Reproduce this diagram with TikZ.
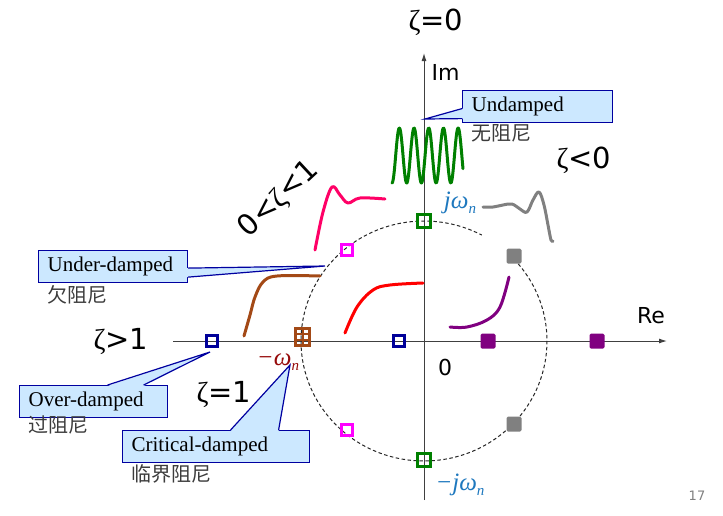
\documentclass[tikz,border=0pt]{standalone}
\usepackage{fontspec}
\setmainfont{Liberation Serif}
\newfontfamily\labelfont{DejaVu Sans}
\newfontfamily\cjk{Noto Sans CJK SC}
\usepackage{tikz}
\usetikzlibrary{arrows.meta,positioning,calc}

\definecolor{calloutfill}{RGB}{204,232,255}
\definecolor{calloutline}{RGB}{0,0,160}
\definecolor{zgreen}{RGB}{0,128,0}
\definecolor{zmagenta}{RGB}{255,0,255}
\definecolor{znavy}{RGB}{0,0,153}
\definecolor{zbrown}{RGB}{163,73,22}
\definecolor{zpink}{RGB}{255,0,102}
\definecolor{zred}{RGB}{255,0,0}
\definecolor{zgray}{RGB}{128,128,128}
\definecolor{zpurple}{RGB}{128,0,128}
\definecolor{jwblue}{RGB}{30,120,190}
\definecolor{wndred}{RGB}{150,10,10}
\definecolor{cntext}{RGB}{60,60,60}

\newcommand{\zet}{{\rmfamily ζ}}
\newcommand{\wsub}{\raisebox{-0.45ex}{\fontsize{15}{15}\selectfont n}}

\tikzset{
  axis/.style={line width=1pt,black!75,-{Latex[length=8pt,width=5pt]}},
  circ/.style={black!85,line width=1pt,dash pattern=on 3.5pt off 2.5pt},
  resp/.style={line width=3pt,line cap=round,line join=round},
  opensq/.style={draw,line width=2.6pt,minimum size=11.5pt,inner sep=0pt},
  fillsq/.style={fill,minimum size=15pt,inner sep=0pt,rounded corners=1.5pt},
  callbox/.style={draw=calloutline,fill=calloutfill,line width=1.2pt,anchor=north west,
    inner xsep=9pt,inner ysep=0pt,minimum height=32pt,align=left,
    font=\fontsize{21}{24}\selectfont},
  callptr/.style={draw=calloutline,line width=1.2pt,line join=miter},
  cnlabel/.style={inner sep=0pt,text=cntext,font=\cjk\fontsize{20}{22}\selectfont},
  zetalabel/.style={font=\labelfont\fontsize{29}{32}\selectfont},
  axislabel/.style={font=\labelfont\fontsize{22}{24}\selectfont},
  mathlabel/.style={font=\itshape\fontsize{25}{27}\selectfont}
}

\begin{document}
\begin{tikzpicture}[x=1pt,y=-1pt]
  \useasboundingbox (0,0) rectangle (723,515);
  \coordinate (O) at (424,341);
  \coordinate (restart) at (173,341);
  \coordinate (reend) at (667,341);
  \coordinate (imbot) at (424,500);
  \coordinate (imtop) at (424,53);
  \draw[axis] (restart) -- (reend);
  \draw[axis] (imbot) -- (imtop);
  \draw[circ] (O) ++(-40:123 and 120) arc[start angle=-40,end angle=298,x radius=123,y radius=120];

  \draw[resp,zgreen] plot[domain=0:71,samples=160] ({392+\x},{155.5+27.5*cos(\x/14.7*360)});
  \draw[resp,zpink] plot[smooth,tension=0.6] coordinates {(315,250) (323,212) (332,187) (340,195) (348,203) (360,198) (385,199)};
  \draw[resp,zgray] plot[smooth,tension=0.6] coordinates {(483,207) (493,207) (503,205) (512,204) (520,209) (527,212) (533,200) (539,192) (544,205) (548,225) (551,240) (553,241)};
  \draw[resp,zbrown] plot[smooth,tension=0.6] coordinates {(244,336) (250,315) (255,297) (263,282) (277,276) (320,276)};
  \draw[resp,zred] plot[smooth,tension=0.6] coordinates {(345,333) (357,307) (373,290) (390,285) (423,283)};
  \draw[resp,zpurple] plot[smooth,tension=0.6] coordinates {(450,327) (467,327) (487,320) (500,307) (509,277)};

  \node[opensq,draw=zgreen,minimum size=13pt] (jwtop) at (424,221) {};
  \node[opensq,draw=zgreen,minimum size=13pt] (jwbot) at (424,460) {};
  \node[opensq,draw=zmagenta] (ulpole) at (347,250) {};
  \node[opensq,draw=zmagenta] (llpole) at (347,430) {};
  \node[opensq,draw=znavy] (farpole) at (212,341) {};
  \node[opensq,draw=znavy] (nearpole) at (399,341) {};
  \node[fillsq,fill=zgray] (urpole) at (514,256) {};
  \node[fillsq,fill=zgray] (lrpole) at (514,424) {};
  \node[fillsq,fill=zpurple] (rpole1) at (488,341) {};
  \node[fillsq,fill=zpurple] (rpole2) at (597,341) {};
  \node[draw=zbrown,line width=2.6pt,minimum width=14pt,minimum height=17pt,inner sep=0pt] (dblpole) at (302.5,337) {};
  \draw[zbrown,line width=2pt] (dblpole.north) -- (dblpole.south);
  \draw[zbrown,line width=2pt] ($(dblpole.north west)!1/3!(dblpole.south west)$) -- ($(dblpole.north east)!1/3!(dblpole.south east)$);
  \draw[zbrown,line width=2pt] ($(dblpole.north west)!2/3!(dblpole.south west)$) -- ($(dblpole.north east)!2/3!(dblpole.south east)$);

  \node[zetalabel] (zeta0) at (436,22) {\zet=0};
  \node[zetalabel] (zetaneg) at (584,160) {\zet<0};
  \node[zetalabel,rotate=43] (zetaunder) at (279,199) {0<\zet<1};
  \node[zetalabel] (zetaover) at (121,341) {\zet>1};
  \node[zetalabel] (zetacrit) at (224,394) {\zet=1};
  \node[axislabel,anchor=west] (imlabel) at (428,72) {Im};
  \node[axislabel] (relabel) at (651,316) {Re};
  \node[axislabel] (origin) at (445,367) {0};
  \node[mathlabel,text=jwblue] (jw) at (460,203) {jω\wsub};
  \node[mathlabel,text=jwblue] (mjw) at (460,485) {−jω\wsub};
  \node[mathlabel,text=wndred] (mwn) at (278,362) {−ω\wsub};
  \node[font=\labelfont\fontsize{13}{14}\selectfont,text=gray] (pagenum) at (697,496) {17};

  \node[callbox,text width=132pt] (undamped) at (462,90) {Undamped};
  \coordinate (undampedtip) at (425,119);
  \fill[calloutfill] ([xshift=1pt,yshift=-2pt]undamped.west) -- (undampedtip) -- ([xshift=1pt,yshift=-12pt]undamped.west) -- cycle;
  \draw[callptr] ([yshift=-2pt]undamped.west) -- (undampedtip) -- ([yshift=-12pt]undamped.west);
  \node[cnlabel,below right=1pt and 9pt of undamped.south west] (undampedcn) {无阻尼};

  \node[callbox,text width=131pt] (under) at (38,250) {Under-damped};
  \coordinate (undertip) at (325,266);
  \fill[calloutfill] ([xshift=-1pt,yshift=-1.5pt]under.east) -- (undertip) -- ([xshift=-1pt,yshift=-10.5pt]under.east) -- cycle;
  \draw[callptr] ([yshift=-1.5pt]under.east) -- (undertip) -- ([yshift=-10.5pt]under.east);
  \node[cnlabel,below right=2pt and 9pt of under.south west] (undercn) {欠阻尼};

  \node[callbox,text width=130pt] (over) at (19,385) {Over-damped};
  \coordinate (overtip) at (210,352);
  \fill[calloutfill] ([xshift=14pt,yshift=-1pt]over.north) -- (overtip) -- ([xshift=50pt,yshift=-1pt]over.north) -- cycle;
  \draw[callptr] ([xshift=14pt]over.north) -- (overtip) -- ([xshift=50pt]over.north);
  \node[cnlabel,below right=-3pt and 9pt of over.south west] (overcn) {过阻尼};

  \node[callbox,text width=169pt] (critical) at (122,430) {Critical-damped};
  \coordinate (criticaltip) at (290,365);
  \fill[calloutfill] ([xshift=14.5pt,yshift=-1pt]critical.north) -- (criticaltip) -- ([xshift=62.5pt,yshift=-1pt]critical.north) -- cycle;
  \draw[callptr] ([xshift=14.5pt]critical.north) -- (criticaltip) -- ([xshift=62.5pt]critical.north);
  \node[cnlabel,below right=1pt and 9pt of critical.south west] (criticalcn) {临界阻尼};
\end{tikzpicture}
\end{document}
